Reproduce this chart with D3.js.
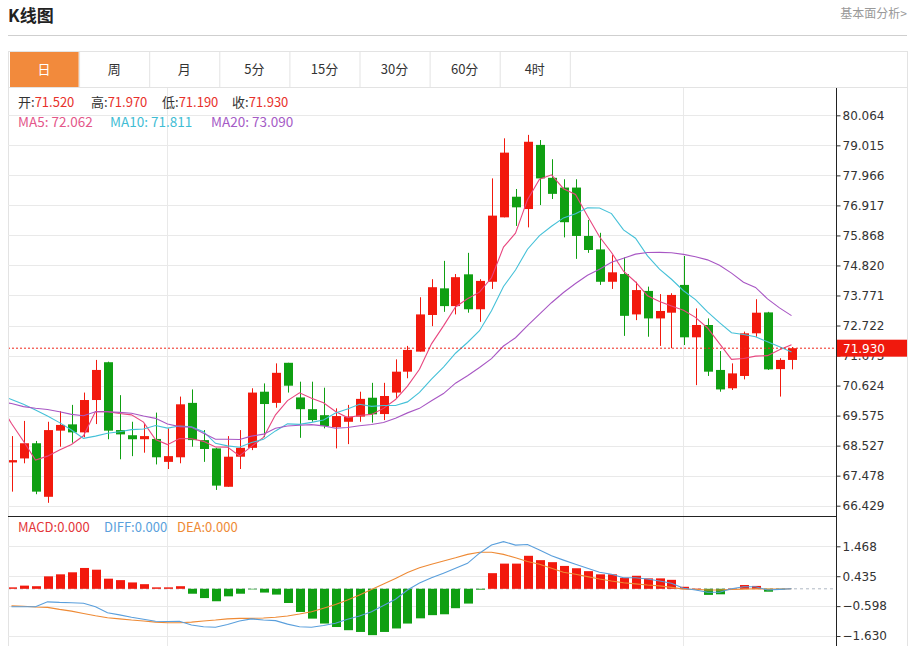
<!DOCTYPE html>
<html><head><meta charset="utf-8">
<script src="https://cdn.jsdelivr.net/npm/d3@7"></script>
<style>
body{margin:0;background:#fff;}
svg{font-family:"Microsoft YaHei","Noto Sans CJK SC",sans-serif;}
</style></head><body><svg id="c" width="914" height="646"></svg>
<script>
const tabs = ["日","周","月","5分","15分","30分","60分","4时"];
const opens  = [67.94,68.08,68.61,66.74,69.05,69.27,68.99,70.12,71.44,69.07,68.89,68.75,68.76,67.96,68.12,70.02,68.72,68.43,67.09,68.14,68.45,70.41,70.02,71.42,70.21,69.80,69.59,69.17,69.36,69.54,70.20,69.63,70.38,71.11,71.81,73.09,74.02,73.40,74.51,73.29,74.25,76.50,77.22,76.79,79.03,77.88,77.54,77.54,75.85,75.38,74.25,74.52,73.11,73.93,72.97,73.17,74.14,72.31,72.74,71.17,70.53,70.96,72.45,73.18,71.20,71.52];
const highs  = [68.86,69.39,68.69,69.36,69.73,69.95,70.38,71.52,71.46,70.29,69.36,69.28,69.68,69.13,70.24,70.49,69.07,68.45,68.86,69.07,70.53,70.70,71.40,71.42,70.76,70.76,70.55,69.83,69.95,70.41,70.72,70.72,71.54,72.01,73.71,74.34,74.98,74.52,75.26,74.34,77.86,79.26,77.49,79.38,79.20,78.53,77.83,77.83,76.41,75.96,75.18,75.10,74.25,74.08,73.82,73.85,75.15,73.32,72.97,71.83,71.40,72.51,73.64,73.20,71.58,71.97];
const lows   = [66.92,67.91,66.83,66.53,68.49,68.63,68.82,69.28,68.75,68.05,68.16,68.28,67.87,67.71,67.91,68.49,67.96,66.98,67.09,67.71,68.37,68.82,69.85,70.38,68.80,69.36,69.13,68.43,68.58,69.36,69.33,69.42,70.18,70.88,71.81,72.70,73.20,73.11,73.17,72.85,74.00,76.50,76.20,76.15,76.93,77.14,75.80,75.05,75.26,74.14,74.00,72.36,72.91,72.33,72.01,71.93,72.04,70.64,70.96,70.41,70.47,70.84,72.33,71.17,70.24,71.19];
const closes = [68.02,68.61,66.92,69.07,69.25,68.99,70.12,71.17,69.05,68.92,68.75,68.86,68.12,68.16,69.97,68.72,68.41,67.13,68.14,68.45,70.38,69.98,71.07,70.62,69.80,69.42,69.21,69.56,69.54,70.16,69.62,70.26,71.11,71.87,73.11,74.06,73.40,74.41,73.29,74.28,76.56,78.76,76.85,79.14,77.86,77.32,76.33,75.85,75.36,74.25,74.58,73.06,73.96,72.97,73.23,73.79,72.31,72.74,71.11,70.49,71.05,72.45,73.17,71.19,71.52,71.93];
const ma5Head  = [70.0,69.30,68.68,68.02,68.16];
const ma10Head = [70.3,70.14,69.97,69.77,69.56,69.33,69.07,68.78,68.86,68.96];
const ma20Head = [70.05,70.00,69.89,69.83,69.79,69.71,69.62,69.57,69.71,69.71,69.69,69.66,69.56,69.48,69.28,69.19,69.17,68.96,68.75,68.75];
const yTicks = [80.064,79.015,77.966,76.917,75.868,74.820,73.771,72.722,71.673,70.624,69.575,68.527,67.478,66.429];
const macdTicks = [1.468,0.435,-0.598,-1.630];
const macdHist = [0.05,0.11,0.09,0.43,0.50,0.57,0.72,0.66,0.35,0.30,0.22,0.16,0.05,0.05,0.09,-0.17,-0.32,-0.43,-0.26,-0.17,-0.02,-0.13,-0.20,-0.49,-0.80,-1.03,-1.20,-1.32,-1.43,-1.49,-1.60,-1.49,-1.37,-1.20,-1.02,-0.91,-0.88,-0.67,-0.51,-0.03,0.54,0.87,0.87,1.14,0.99,0.92,0.79,0.71,0.61,0.50,0.50,0.38,0.45,0.36,0.36,0.31,0.07,0.01,-0.21,-0.19,0.01,0.13,0.10,-0.10,-0.02,0.00];
const diffVals = [-0.62,-0.62,-0.62,-0.45,-0.47,-0.48,-0.50,-0.62,-0.83,-0.90,-0.98,-1.05,-1.12,-1.13,-1.12,-1.25,-1.31,-1.33,-1.23,-1.11,-1.04,-1.08,-1.10,-1.22,-1.31,-1.33,-1.27,-1.19,-1.05,-0.94,-0.79,-0.58,-0.36,-0.04,0.20,0.38,0.54,0.71,0.88,1.23,1.51,1.63,1.51,1.53,1.34,1.14,0.99,0.85,0.71,0.57,0.50,0.38,0.38,0.34,0.27,0.19,0.02,-0.04,-0.12,-0.12,0.00,0.07,0.07,-0.04,-0.02,0.00];
const deaVals  = [-0.59,-0.60,-0.63,-0.64,-0.71,-0.77,-0.85,-0.93,-1.00,-1.04,-1.08,-1.11,-1.15,-1.17,-1.17,-1.15,-1.11,-1.08,-1.04,-1.02,-1.02,-1.01,-0.98,-0.94,-0.87,-0.79,-0.67,-0.54,-0.39,-0.21,-0.02,0.17,0.36,0.56,0.73,0.85,0.96,1.07,1.19,1.26,1.26,1.19,1.07,0.94,0.85,0.71,0.57,0.50,0.42,0.34,0.27,0.21,0.17,0.13,0.10,0.05,-0.01,-0.02,-0.04,-0.04,-0.02,-0.01,0.00,-0.01,-0.01,0.00];
const ohlcLabels = [["开:","71.520"],["高:","71.970"],["低:","71.190"],["收:","71.930"]];
const maLabels = [["MA5: 72.062","#e4578a"],["MA10: 71.811","#3fbdd4"],["MA20: 73.090","#a55bc6"]];
const macdLabels = [["MACD:0.000","#e3363a"],["DIFF:0.000","#5a9fdc"],["DEA:0.000","#ee8a35"]];
const lastPrice = 71.930;
const monthStarts = [13, 56];

const RED = "#f2190d", GREEN = "#0f9f12";
const svg = d3.select("#c");
const L = 8, R = 836, RB = 907;
const mainTop = 88, mainBot = 516, macdBot = 646;

// title
svg.append("text").attr("x", 8).attr("y", 22).attr("font-size", 17).attr("font-weight", "bold").attr("fill", "#222").text("K线图");
svg.append("text").attr("x", RB).attr("y", 18).attr("text-anchor", "end").attr("font-size", 12).attr("fill", "#999").text("基本面分析>");
svg.append("line").attr("x1", 8).attr("x2", RB).attr("y1", 35.5).attr("y2", 35.5).attr("stroke", "#cfcfcf");

// tabs
const tabW = 70.1;
svg.append("rect").attr("x", 8.5).attr("y", 51.5).attr("width", RB - 8).attr("height", 36).attr("fill", "#fff").attr("stroke", "#e3e3e3");
tabs.forEach((t, i) => {
  const x0 = 9 + i * tabW;
  if (i === 0) svg.append("rect").attr("x", x0 + 1).attr("y", 52).attr("width", tabW - 1.5).attr("height", 35).attr("fill", "#f28a3c");
  svg.append("line").attr("x1", x0 + tabW + 0.5).attr("x2", x0 + tabW + 0.5).attr("y1", 52).attr("y2", 87).attr("stroke", "#e3e3e3");
  svg.append("text").attr("x", x0 + tabW / 2).attr("y", 74).attr("text-anchor", "middle").attr("font-size", 13)
    .attr("fill", i === 0 ? "#fff" : "#333").text(t);
});

// frame
svg.append("line").attr("x1", L + 0.5).attr("x2", L + 0.5).attr("y1", mainTop).attr("y2", macdBot).attr("stroke", "#e3e3e3");
svg.append("line").attr("x1", RB + 0.5).attr("x2", RB + 0.5).attr("y1", mainTop).attr("y2", macdBot).attr("stroke", "#e3e3e3");

const x = d3.scaleLinear().domain([0, closes.length - 1]).range([11.5, 791.5]);
const y = d3.scaleLinear().domain([66.429, 80.064]).range([505.7, 115.3]);
const ym = d3.scaleLinear().domain([-1.630, 1.468]).range([636, 546.3]);

svg.append("defs").append("clipPath").attr("id", "clipMain").append("rect").attr("x", L + 1).attr("y", mainTop).attr("width", R - L - 1).attr("height", mainBot - mainTop);
svg.select("defs").append("clipPath").attr("id", "clipMacd").append("rect").attr("x", L + 1).attr("y", mainBot + 1).attr("width", R - L - 1).attr("height", macdBot - mainBot);

// grids
const grid = svg.append("g").attr("stroke", "#e9e9e9");
yTicks.forEach(t => grid.append("line").attr("x1", L).attr("x2", R).attr("y1", Math.round(y(t)) + 0.5).attr("y2", Math.round(y(t)) + 0.5));
macdTicks.forEach(t => grid.append("line").attr("x1", L).attr("x2", R).attr("y1", Math.round(ym(t)) + 0.5).attr("y2", Math.round(ym(t)) + 0.5));
monthStarts.forEach(i => grid.append("line").attr("x1", Math.round(x(i)) - 0.5).attr("x2", Math.round(x(i)) - 0.5).attr("y1", mainTop).attr("y2", macdBot));

// candles
const main = svg.append("g").attr("clip-path", "url(#clipMain)");
const bw = 9;
const idx = d3.range(closes.length);
main.selectAll("line.w").data(idx).join("line").attr("class", "w")
  .attr("x1", i => Math.round(x(i)) + 0.5).attr("x2", i => Math.round(x(i)) + 0.5)
  .attr("y1", i => y(highs[i])).attr("y2", i => y(lows[i]))
  .attr("stroke", i => closes[i] >= opens[i] ? RED : GREEN);
main.selectAll("rect.b").data(idx).join("rect").attr("class", "b")
  .attr("x", i => Math.round(x(i)) - 4).attr("width", bw)
  .attr("y", i => y(Math.max(opens[i], closes[i])))
  .attr("height", i => Math.max(1.5, Math.abs(y(opens[i]) - y(closes[i]))))
  .attr("fill", i => closes[i] >= opens[i] ? RED : GREEN);

// moving averages
function ma(n, head) {
  const pts = [{ i: -1, v: head[0] }];
  closes.forEach((c, i) => {
    const v = i >= n - 1 ? d3.mean(closes.slice(i - n + 1, i + 1)) : head[i + 1];
    pts.push({ i, v });
  });
  return pts;
}
const line = d3.line().x(d => x(d.i)).y(d => y(d.v));
[[5, ma5Head, "#e8467f"], [10, ma10Head, "#45c1d8"], [20, ma20Head, "#a857c4"]].forEach(([n, h, c]) => {
  main.append("path").attr("d", line(ma(n, h))).attr("fill", "none").attr("stroke", c).attr("stroke-width", 1.1);
});

// last price line
main.append("line").attr("x1", L).attr("x2", R).attr("y1", y(lastPrice)).attr("y2", y(lastPrice))
  .attr("stroke", "#f0261a").attr("stroke-dasharray", "2,2");

// main/macd separator
svg.append("line").attr("x1", L).attr("x2", R).attr("y1", mainBot + 0.5).attr("y2", mainBot + 0.5).attr("stroke", "#222");

// MACD
const mg = svg.append("g").attr("clip-path", "url(#clipMacd)");
mg.append("line").attr("x1", L).attr("x2", R).attr("y1", ym(0)).attr("y2", ym(0)).attr("stroke", "#b0b8c4").attr("stroke-dasharray", "3,3");
mg.selectAll("rect.h").data(idx).join("rect").attr("class", "h")
  .attr("x", i => Math.round(x(i)) - 4).attr("width", bw)
  .attr("y", i => Math.min(ym(0), ym(macdHist[i])))
  .attr("height", i => Math.abs(ym(macdHist[i]) - ym(0)))
  .attr("fill", i => macdHist[i] >= 0 ? RED : GREEN);
const lm = d3.line().x((d, i) => x(i)).y(d => ym(d));
mg.append("path").attr("d", lm(deaVals)).attr("fill", "none").attr("stroke", "#ee8a35").attr("stroke-width", 1.1);
mg.append("path").attr("d", lm(diffVals)).attr("fill", "none").attr("stroke", "#5a9fdc").attr("stroke-width", 1.1);

// axes
svg.append("line").attr("x1", R + 0.5).attr("x2", R + 0.5).attr("y1", mainTop).attr("y2", macdBot).attr("stroke", "#222");
const ax = svg.append("g").attr("transform", `translate(${R + 0.5},0)`)
  .call(d3.axisRight(y).tickValues(yTicks).tickFormat(d3.format(".3f")).tickSize(4).tickPadding(2));
const ax2 = svg.append("g").attr("transform", `translate(${R + 0.5},0)`)
  .call(d3.axisRight(ym).tickValues(macdTicks).tickFormat(d3.format(".3f")).tickSize(4).tickPadding(2));
[ax, ax2].forEach(a => {
  a.select(".domain").remove();
  a.selectAll("text").attr("font-size", 12).attr("fill", "#333").attr("font-family", "Tahoma, 'DejaVu Sans', sans-serif");
  a.selectAll("line").attr("stroke", "#333");
});

// last price tag
svg.append("rect").attr("x", R + 1).attr("y", y(lastPrice) - 8.5).attr("width", RB - R - 1).attr("height", 17).attr("fill", "#f0190d");
svg.append("text").attr("x", R + 7).attr("y", y(lastPrice) + 4.5).attr("font-size", 12).attr("fill", "#fff")
  .attr("font-family", "Tahoma, 'DejaVu Sans', sans-serif").text(d3.format(".3f")(lastPrice));

// legends
const oh = svg.append("text").attr("x", 18).attr("y", 107).attr("font-size", 13);
const ohx = [18, 91, 162, 232];
ohlcLabels.forEach(([k, v], i) => {
  oh.append("tspan").attr("x", ohx[i]).attr("fill", "#333").text(k);
  oh.append("tspan").attr("fill", "#e8302a").text(v);
});
const mx = [18, 110, 211];
maLabels.forEach(([t, c], i) => svg.append("text").attr("x", mx[i]).attr("y", 126.5).attr("font-size", 13.5).attr("fill", c).text(t));
const cx = [18, 104, 177];
macdLabels.forEach(([t, c], i) => svg.append("text").attr("x", cx[i]).attr("y", 532).attr("font-size", 13).attr("fill", c).text(t));
</script></body></html>
